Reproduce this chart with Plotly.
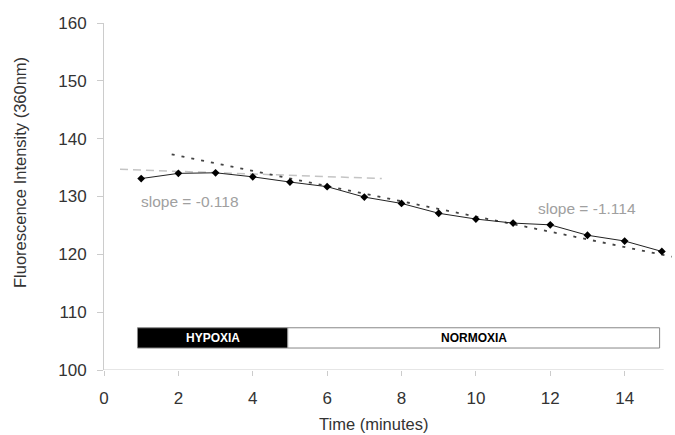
import plotly.graph_objects as go

# Data
time_min = [1, 2, 3, 4, 5, 6, 7, 8, 9, 10, 11, 12, 13, 14, 15]
fluorescence = [133.1, 134.0, 134.1, 133.4, 132.5, 131.7, 129.9, 128.8,
                127.1, 126.1, 125.4, 125.1, 123.3, 122.3, 120.5]

# Trend lines (endpoints)
trend_normoxia_x = [1.82, 15.27]
trend_normoxia_y = [137.3, 119.6]
trend_hypoxia_x = [0.43, 7.47]
trend_hypoxia_y = [134.7, 133.1]

slope_labels = ["slope = -0.118", "slope = -1.114"]
slope_label_x = [2.3, 13.0]
slope_label_y = [129.2, 128.0]

# Condition bars
phase_names = ["HYPOXIA", "NORMOXIA"]
phase_start = [0.9, 4.94]
phase_end = [4.94, 14.94]
phase_fill = ["black", "white"]
phase_text_color = ["white", "black"]
bar_y0, bar_y1 = 103.8, 107.3

y_ticks = [100, 110, 120, 130, 140, 150, 160]
x_ticks = [0, 2, 4, 6, 8, 10, 12, 14]

FONT = "Liberation Sans, Arial, sans-serif"

fig = go.Figure()

fig.add_trace(go.Scatter(
    x=trend_hypoxia_x, y=trend_hypoxia_y, mode="lines",
    line=dict(color="#c4c4c4", width=1.5, dash="8px,5px"), showlegend=False))
fig.add_trace(go.Scatter(
    x=trend_normoxia_x, y=trend_normoxia_y, mode="lines",
    line=dict(color="#444444", width=1.8, dash="3px,7px"), showlegend=False))
fig.add_trace(go.Scatter(
    x=time_min, y=fluorescence, mode="lines+markers",
    line=dict(color="#222222", width=1),
    marker=dict(symbol="diamond", size=6, color="black"),
    showlegend=False))

shapes = []
annotations = []
for name, s, e, fc, tc in zip(phase_names, phase_start, phase_end, phase_fill, phase_text_color):
    shapes.append(dict(type="rect", xref="x", yref="y", x0=s, x1=e, y0=bar_y0, y1=bar_y1,
                       fillcolor=fc, line=dict(color="#888888", width=1), layer="above"))
    annotations.append(dict(x=(s + e) / 2, y=(bar_y0 + bar_y1) / 2, text="<b>" + name + "</b>",
                            showarrow=False, font=dict(family=FONT, size=12, color=tc)))

for t, x, y in zip(slope_labels, slope_label_x, slope_label_y):
    annotations.append(dict(x=x, y=y, text=t, showarrow=False,
                            font=dict(family=FONT, size=15.5, color="#a0a0a0")))

# Axis titles (placed as in the original, slightly off-centre)
annotations.append(dict(text="Fluorescence Intensity (360nm)", textangle=-90,
                        xref="paper", yref="y", x=-0.148, y=134.2,
                        xanchor="center", yanchor="middle", showarrow=False,
                        font=dict(family=FONT, size=16.5, color="#333333")))
annotations.append(dict(text="Time (minutes)", xref="x", yref="paper", x=7.25, y=-0.157,
                        xanchor="center", yanchor="middle", showarrow=False,
                        font=dict(family=FONT, size=16.5, color="#333333")))

# x-axis baseline
shapes.append(dict(type="line", xref="x", yref="y", x0=0, x1=15.05, y0=100, y1=100,
                   line=dict(color="#cccccc", width=1)))

fig.update_layout(
    width=675, height=435,
    margin=dict(l=104, r=2, t=23, b=65),
    paper_bgcolor="white", plot_bgcolor="white",
    font=dict(family=FONT, size=17, color="#333333"),
    shapes=shapes, annotations=annotations,
    xaxis=dict(range=[0, 15.3], tickvals=x_ticks, showgrid=False, zeroline=False,
               showline=False, ticks="outside", ticklen=5, tickcolor="#cccccc",
               ticklabelstandoff=8, tickfont=dict(size=17)),
    yaxis=dict(range=[100, 160], tickvals=y_ticks, showgrid=False, zeroline=False,
               showline=True, linecolor="#cccccc", ticks="outside", ticklen=6,
               tickcolor="#cccccc", ticklabelstandoff=7, tickfont=dict(size=17)),
)

fig.write_html("out.html")
